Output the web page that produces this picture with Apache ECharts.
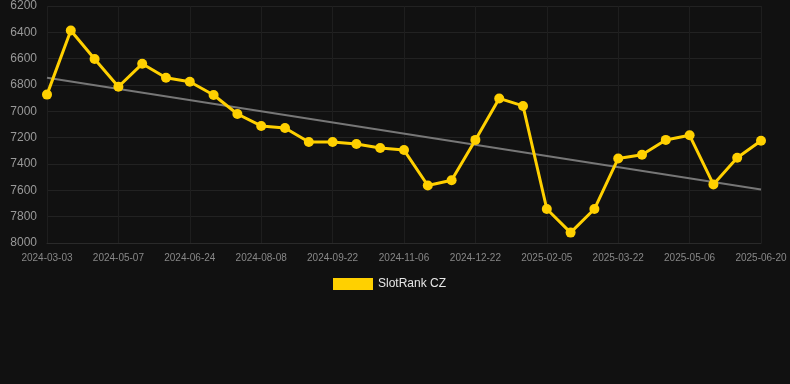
<!DOCTYPE html>
<html>
<head>
<meta charset="utf-8">
<script src="https://cdn.jsdelivr.net/npm/echarts@6/dist/echarts.min.js"></script>
<style>html,body{margin:0;padding:0;background:#111111;}#c{width:790px;height:384px;}</style>
</head>
<body>
<div id="c"></div>
<script>
const categories = ['2024-03-03','2024-03-25','2024-04-16','2024-05-07','2024-05-23','2024-06-08','2024-06-24','2024-07-09','2024-07-24','2024-08-08','2024-08-23','2024-09-07','2024-09-22','2024-10-07','2024-10-22','2024-11-06','2024-11-21','2024-12-07','2024-12-22','2025-01-06','2025-01-21','2025-02-05','2025-02-20','2025-03-07','2025-03-22','2025-04-06','2025-04-21','2025-05-06','2025-05-21','2025-06-05','2025-06-20'];
const rankValues = [6873,6386,6603,6813,6639,6745,6775,6876,7020,7111,7127,7233,7233,7248,7278,7294,7563,7523,7217,6902,6959,7742,7921,7742,7358,7330,7217,7182,7555,7353,7224];
const trendStart = 6745;
const trendEnd = 7593;
const seriesName = 'SlotRank CZ';

const chart = echarts.init(document.getElementById('c'), null, {renderer:'canvas'});
chart.setOption({
  backgroundColor: '#111111',
  animation: false,
  grid: {left: 47, right: 29, top: 6, bottom: 141},
  legend: {
    data: [seriesName], left: 333, top: 278, padding: 0,
    itemWidth: 40, itemHeight: 12, icon: 'rect',
    textStyle: {color: '#e6e6e6', fontSize: 12}
  },
  xAxis: {
    type: 'category', data: categories, boundaryGap: false,
    axisLine: {show: true, lineStyle: {color: '#2a2a2a'}},
    axisTick: {show: false},
    axisLabel: {color: '#888888', fontSize: 10, interval: 2, margin: 10},
    splitLine: {show: true, interval: 2, lineStyle: {color: '#1e1e1e'}}
  },
  yAxis: {
    type: 'value', inverse: true, min: 6200, max: 8000, interval: 200,
    axisLine: {show: false}, axisTick: {show: false},
    axisLabel: {color: '#999999', fontSize: 12, margin: 10, formatter: function(v){ return String(v); }},
    splitLine: {show: true, lineStyle: {color: '#222222'}}
  },
  series: [
    {
      name: 'trend', type: 'line', data: [[0, trendStart], [categories.length - 1, trendEnd]],
      symbol: 'none', lineStyle: {color: '#777777', width: 2}, z: 1, silent: true
    },
    {
      name: seriesName, type: 'line', data: rankValues,
      symbol: 'circle', symbolSize: 10, showAllSymbol: true,
      itemStyle: {color: '#ffd000'},
      lineStyle: {color: '#ffd000', width: 3}, z: 2
    }
  ]
});
</script>
</body>
</html>
